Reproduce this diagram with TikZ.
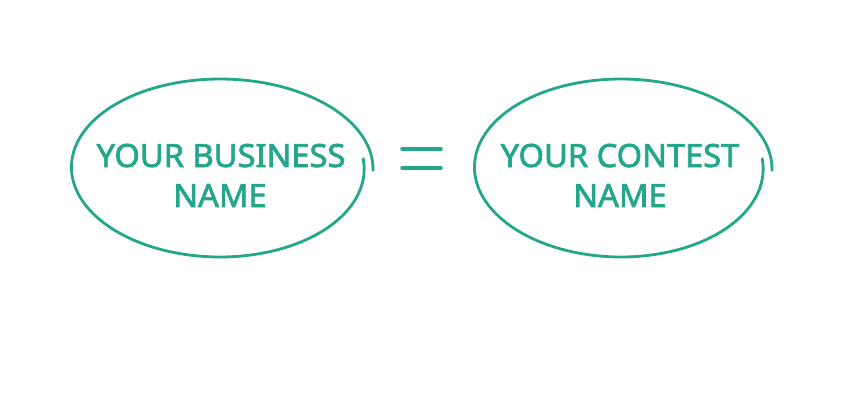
\documentclass[tikz,border=0pt]{standalone}
\usepackage{fontspec}
\setmainfont{Noto Sans}
\newfontfamily\lblfont{Noto Sans}[FakeBold=2.2,FakeStretch=1.02]
\definecolor{teal1}{RGB}{35,166,138}
\begin{document}
\begin{tikzpicture}[x=1pt,y=1pt,
  lbl/.style={anchor=base,text=teal1,inner sep=0pt,font=\lblfont\fontsize{32}{32}\selectfont},
  loop/.style={draw=teal1,line width=2.8pt,line cap=round,smooth}]
\useasboundingbox (0,0) rectangle (845,408);
% left ellipse
\draw[loop] plot[domain=0:1,samples=120,variable=\t]
  ({220+(144+9*\t)*cos(6-368*\t)},{240+89*sin(6-368*\t)});
% right ellipse
\draw[loop] plot[domain=0:1,samples=120,variable=\t]
  ({621+(142+9*\t)*cos(6-368*\t)},{240+89*sin(6-368*\t)});
% texts
\node[lbl] (b1) at (221,241) {YOUR BUSINESS};
\node[lbl] (b2) at (220,201) {NAME};
\node[lbl] (c1) at (620,241) {YOUR CONTEST};
\node[lbl] (c2) at (620,201) {NAME};
% equals sign
\coordinate (e1) at (402,259);
\coordinate (e2) at (441,259);
\coordinate (e3) at (402,240);
\coordinate (e4) at (441,240);
\draw[teal1,line width=3.5pt,line cap=round] (e1) -- (e2);
\draw[teal1,line width=3.5pt,line cap=round] (e3) -- (e4);
\end{tikzpicture}
\end{document}
